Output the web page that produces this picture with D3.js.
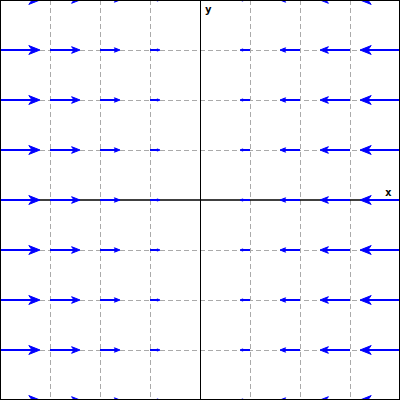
<!DOCTYPE html>
<html>
<head>
<meta charset="utf-8">
<script src="https://cdn.jsdelivr.net/npm/d3@7"></script>
<style>
  body { margin: 0; background: #fff; }
  svg { display: block; }
</style>
</head>
<body>
<div id="chart"></div>
<script>
// grid of sample points
const xValues = [-4, -3, -2, -1, 0, 1, 2, 3, 4];
const yValues = [-4, -3, -2, -1, 0, 1, 2, 3, 4];
// field components: u depends on x only, v is zero everywhere
const uValues = [4, 3, 2, 1, 0, -1, -2, -3, -4];
const vValues = [0, 0, 0, 0, 0, 0, 0, 0, 0];
const gridTicks = [-3, -2, -1, 1, 2, 3];

const width = 400, height = 400;
const arrowScale = 0.2; // data units per field unit

const x = d3.scaleLinear().domain([-4, 4]).range([0, width]);
const y = d3.scaleLinear().domain([-4, 4]).range([height, 0]);

const svg = d3.select("#chart").append("svg")
  .attr("width", width)
  .attr("height", height);

svg.append("defs").append("clipPath").attr("id", "clip")
  .append("rect").attr("width", width).attr("height", height);

// dashed grid
svg.append("g").selectAll("line").data(gridTicks).join("line")
  .attr("x1", d => x(d) + 0.5).attr("x2", d => x(d) + 0.5)
  .attr("y1", 0).attr("y2", height)
  .attr("stroke", "#aaa").attr("stroke-dasharray", "5,3");
svg.append("g").selectAll("line").data(gridTicks).join("line")
  .attr("y1", d => y(d) + 0.5).attr("y2", d => y(d) + 0.5)
  .attr("x1", 0).attr("x2", width)
  .attr("stroke", "#aaa").attr("stroke-dasharray", "5,3");

// axes through origin
svg.append("line")
  .attr("x1", 0).attr("x2", width).attr("y1", y(0)).attr("y2", y(0))
  .attr("stroke", "#000").attr("stroke-width", 1.5);
svg.append("line")
  .attr("x1", x(0) + 0.5).attr("x2", x(0) + 0.5).attr("y1", 0).attr("y2", height)
  .attr("stroke", "#000");

// vectors
const points = [];
yValues.forEach(yv => {
  xValues.forEach((xv, i) => {
    points.push({ x: xv, y: yv, u: uValues[i], v: vValues[i] });
  });
});

const arrows = svg.append("g").attr("clip-path", "url(#clip)");
points.filter(d => d.u !== 0 || d.v !== 0).forEach(d => {
  const x0 = x(d.x), y0 = y(d.y);
  const x1 = x(d.x + d.u * arrowScale), y1 = y(d.y + d.v * arrowScale);
  const ang = Math.atan2(y1 - y0, x1 - x0);
  const len = Math.hypot(x1 - x0, y1 - y0);
  const hl = len * 0.28, hw = len * 0.11;
  const bx = x1 - hl * Math.cos(ang), by = y1 - hl * Math.sin(ang);
  const px = -Math.sin(ang), py = Math.cos(ang);
  arrows.append("line")
    .attr("x1", x0).attr("y1", y0)
    .attr("x2", bx + hl * 0.3 * Math.cos(ang)).attr("y2", by + hl * 0.3 * Math.sin(ang))
    .attr("stroke", "#0000ff").attr("stroke-width", 2);
  arrows.append("path")
    .attr("d", `M${x1},${y1}L${bx + px * hw},${by + py * hw}L${bx + hl * 0.3 * Math.cos(ang)},${by + hl * 0.3 * Math.sin(ang)}L${bx - px * hw},${by - py * hw}Z`)
    .attr("fill", "#0000ff").attr("stroke", "#0000ff").attr("stroke-width", 1);
});

// axis labels
svg.append("text").attr("x", x(3.7)).attr("y", y(0.08))
  .attr("font-family", "DejaVu Sans Mono, monospace").attr("font-size", 11)
  .attr("font-weight", "bold").text("x");
svg.append("text").attr("x", x(0.1)).attr("y", y(3.75))
  .attr("font-family", "DejaVu Sans Mono, monospace").attr("font-size", 11)
  .attr("font-weight", "bold").text("y");

// frame
svg.append("rect").attr("x", 0.5).attr("y", 0.5)
  .attr("width", width - 1).attr("height", height - 1)
  .attr("fill", "none").attr("stroke", "#000");
</script>
</body>
</html>
